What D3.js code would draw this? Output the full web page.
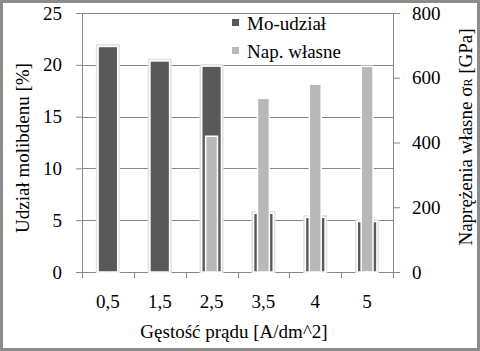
<!DOCTYPE html>
<html>
<head>
<meta charset="utf-8">
<script src="https://cdn.jsdelivr.net/npm/d3@7"></script>
</head>
<body style="margin:0;background:#fff">
<svg id="chart" width="480" height="351" style="display:block"></svg>
<script>
// data
const categories = ["0,5", "1,5", "2,5", "3,5", "4", "5"];
const moShare = [21.7, 20.3, 19.8, 5.6, 5.2, 4.8];          // left axis [%]
const stress = [null, null, 417, 534, 578, 633];           // right axis [GPa]
const leftTicks = [0, 5, 10, 15, 20, 25];
const rightTicks = [0, 200, 400, 600, 800];
const seriesNames = ["Mo-udział", "Nap. własne"];

const width = 480, height = 351;
const plot = { left: 82, right: 393, top: 13, bottom: 272 };
const darkColor = "#595959", lightColor = "#b8b8b8", gridColor = "#868686";
const font = "Liberation Serif";

const svg = d3.select("#chart");

//border
svg.append("rect")
  .attr("x", 1.5).attr("y", 1.5)
  .attr("width", width - 3).attr("height", height - 3)
  .attr("fill", "#fff")
  .attr("stroke", "#8c8c8c")
  .attr("stroke-width", 3);

//scales
const x = d3.scaleBand().domain(categories).range([plot.left, plot.right]);
const yL = d3.scaleLinear().domain([0, 25]).range([plot.bottom, plot.top]);
const yR = d3.scaleLinear().domain([0, 800]).range([plot.bottom, plot.top]);

//grid
svg.append("g")
  .selectAll("line")
  .data(leftTicks.slice(1))
  .join("line")
  .attr("x1", plot.left).attr("x2", plot.right)
  .attr("y1", (d) => Math.round(yL(d)) + 0.5)
  .attr("y2", (d) => Math.round(yL(d)) + 0.5)
  .attr("stroke", gridColor);

//axes
const axisStyle = (g) => {
  g.attr("font-family", font).attr("font-size", 19);
  g.select(".domain").attr("stroke", gridColor);
  g.selectAll(".tick line").attr("stroke", gridColor);
  g.selectAll(".tick text").attr("fill", "#000");
};

svg.append("g")
  .attr("transform", `translate(${plot.left},0)`)
  .call(d3.axisLeft(yL).tickValues(leftTicks).tickSize(6).tickSizeOuter(0).tickPadding(14))
  .call(axisStyle);

svg.append("g")
  .attr("transform", `translate(${plot.right},0)`)
  .call(d3.axisRight(yR).tickValues(rightTicks).tickSize(7).tickSizeOuter(0).tickPadding(12))
  .call(axisStyle);

//x axis: ticks at band boundaries
const xAxis = svg.append("g").attr("transform", `translate(0,${plot.bottom})`);
xAxis.append("line")
  .attr("x1", plot.left).attr("x2", plot.right)
  .attr("y1", 0.5).attr("y2", 0.5)
  .attr("stroke", gridColor);
const bounds = categories.map((c) => x(c)).concat([plot.right]);
xAxis.selectAll("line.tick")
  .data(bounds)
  .join("line")
  .attr("class", "tick")
  .attr("x1", (d) => Math.round(d) + 0.5).attr("x2", (d) => Math.round(d) + 0.5)
  .attr("y1", 0).attr("y2", 6)
  .attr("stroke", gridColor);
xAxis.selectAll("text")
  .data(categories)
  .join("text")
  .attr("x", (d) => x(d) + x.bandwidth() / 2)
  .attr("y", 36)
  .attr("text-anchor", "middle")
  .attr("font-family", font)
  .attr("font-size", 19)
  .text((d) => d);

//bars: soft halo + white outline drawn as strokes behind each bar
const darkW = x.bandwidth() * 0.35;
const lightW = x.bandwidth() * 0.2;

function bars(data, w, y, fill, halo) {
  const g = svg.append("g");
  const item = g.selectAll("g").data(data).join("g");
  const bx = (d) => x(d.c) + (x.bandwidth() - w) / 2;
  if (halo) {
    item.append("rect")
      .attr("x", (d) => bx(d) - 2).attr("y", (d) => y(d.v) - 2)
      .attr("width", w + 4).attr("height", (d) => y(0) - y(d.v) + 2)
      .attr("fill", "none").attr("stroke", "#e2e2e2").attr("stroke-width", 2);
  }
  item.append("rect")
    .attr("x", (d) => bx(d) - 0.75).attr("y", (d) => y(d.v) - 0.75)
    .attr("width", w + 1.5).attr("height", (d) => y(0) - y(d.v) + 0.75)
    .attr("fill", fill).attr("stroke", "#fff").attr("stroke-width", 1.5);
}

bars(categories.map((c, i) => ({ c, v: moShare[i] })), darkW, yL, darkColor, true);
bars(categories.map((c, i) => ({ c, v: stress[i] })).filter((d) => d.v != null), lightW, yR, lightColor, false);

//legend
const legend = svg.append("g").attr("transform", "translate(232,19)");
legend.selectAll("g")
  .data(seriesNames)
  .join("g")
  .attr("transform", (d, i) => `translate(0,${i * 28})`)
  .each(function (d, i) {
    const g = d3.select(this);
    g.append("rect")
      .attr("width", 7).attr("height", 7)
      .attr("fill", i === 0 ? darkColor : lightColor);
    g.append("text")
      .attr("x", 15).attr("y", 11)
      .attr("font-family", font)
      .attr("font-size", 19)
      .text(d);
  });

//axis titles
svg.append("text")
  .attr("transform", `translate(29,148)rotate(-90)`)
  .attr("text-anchor", "middle")
  .attr("font-family", font)
  .attr("font-size", 19)
  .text("Udział molibdenu [%]");

const rt = svg.append("text")
  .attr("transform", `translate(472,137)rotate(-90)`)
  .attr("text-anchor", "middle")
  .attr("font-family", font)
  .attr("font-size", 19);
rt.append("tspan").text("Naprężenia własne σ");
rt.append("tspan").attr("font-size", 12).text("R");
rt.append("tspan").text(" [GPa]");

svg.append("text")
  .attr("x", 234)
  .attr("y", 338)
  .attr("text-anchor", "middle")
  .attr("font-family", font)
  .attr("font-size", 19)
  .text("Gęstość prądu [A/dm^2]");
</script>
</body>
</html>
